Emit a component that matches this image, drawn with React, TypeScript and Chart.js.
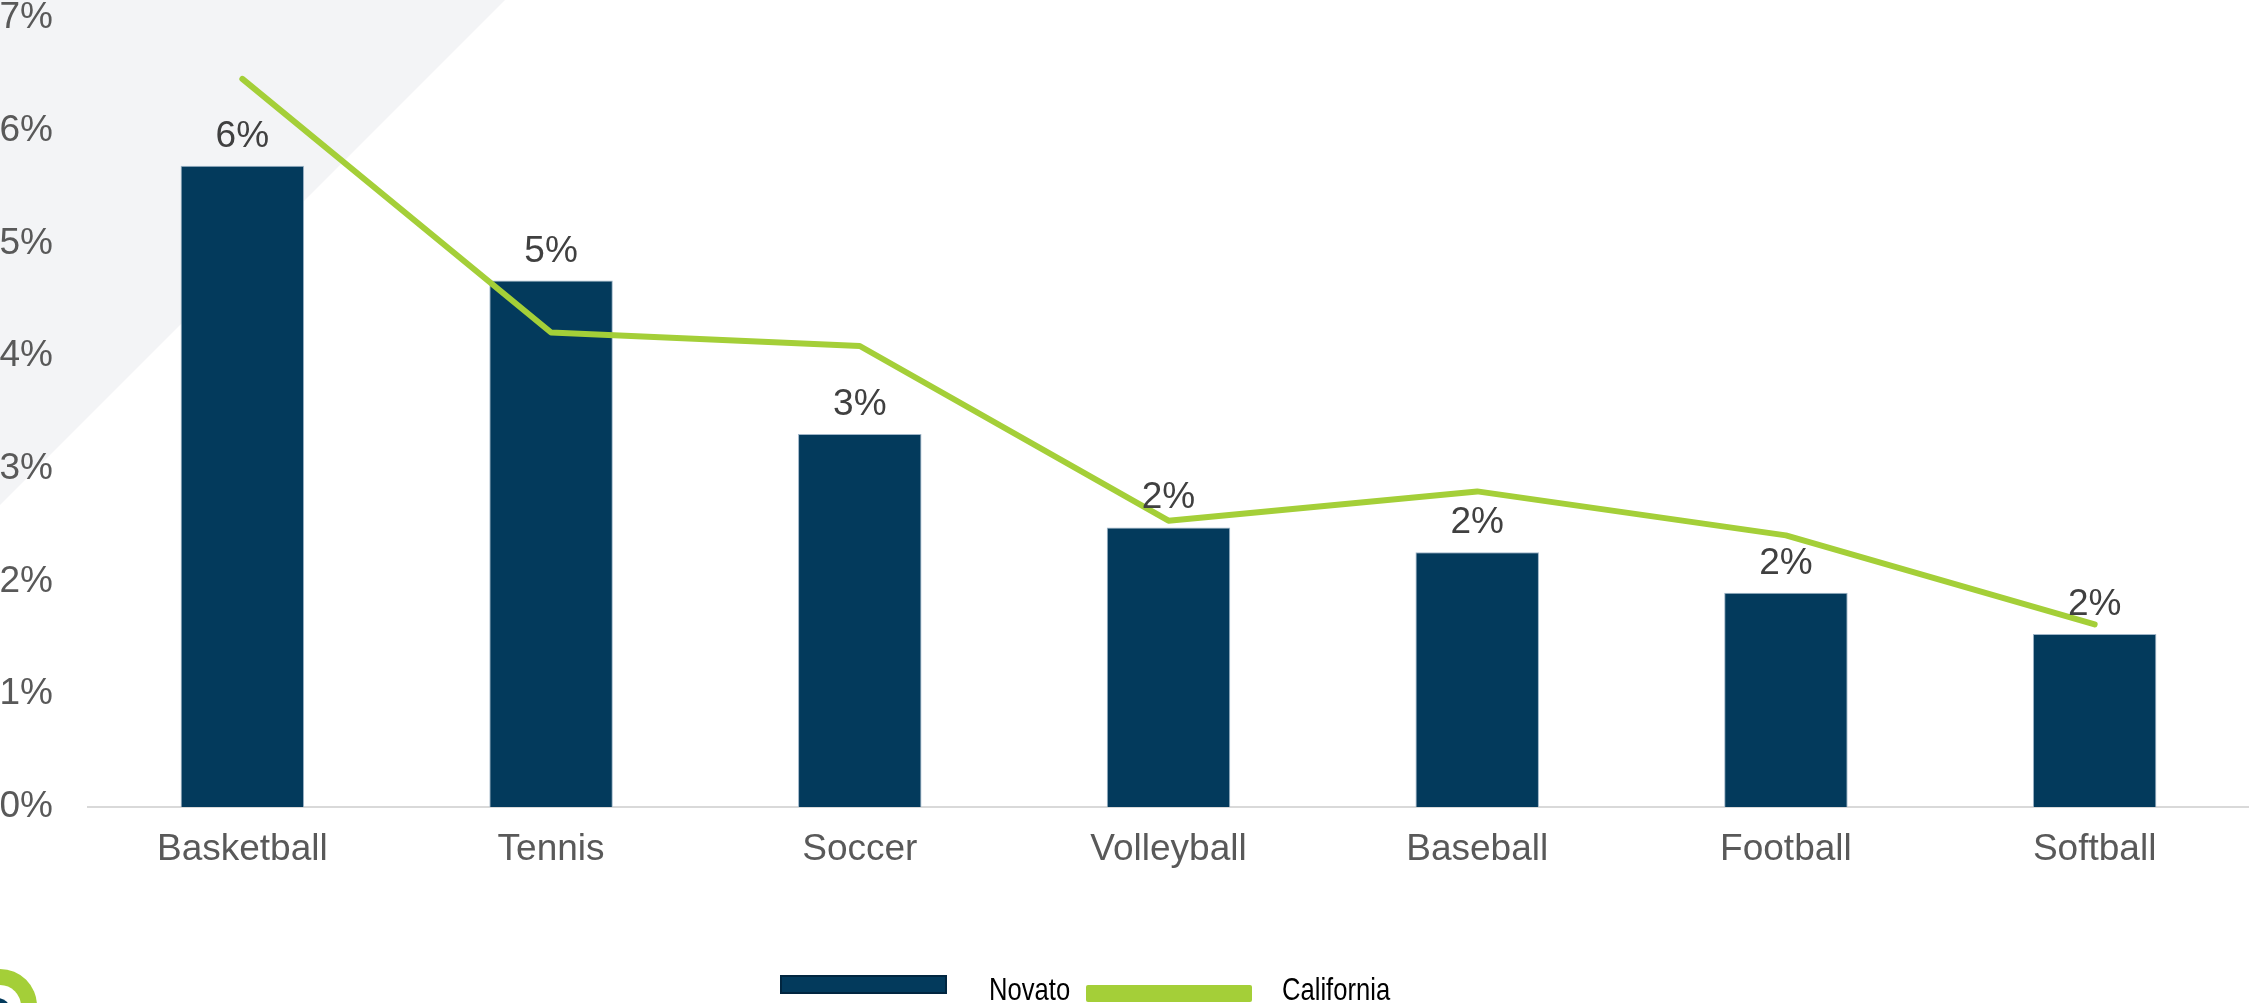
import React, { useEffect, useRef } from "react";
import { Chart, registerables } from "chart.js";

Chart.register(...registerables);

const categories = ["Basketball", "Tennis", "Soccer", "Volleyball", "Baseball", "Football", "Softball"];
const novatoValues = [5.69, 4.67, 3.31, 2.48, 2.26, 1.9, 1.535];
const californiaValues = [6.46, 4.21, 4.09, 2.54, 2.8, 2.41, 1.62];
const seriesLabels = ["Novato", "California"];
const yTickValues = [0, 1, 2, 3, 4, 5, 6, 7];

const NAVY = "#033A5C";
const GREEN = "#A4CF38";
const FONT = "'Liberation Sans', Arial, sans-serif";

const backgroundPlugin = {
  id: "bgDecor",
  beforeDraw(chart: any) {
    const { ctx, width, height } = chart;
    ctx.save();
    ctx.fillStyle = "#FFFFFF";
    ctx.fillRect(0, 0, width, height);
    ctx.fillStyle = "#F3F4F6";
    ctx.beginPath();
    ctx.moveTo(0, 0);
    ctx.lineTo(505, 0);
    ctx.lineTo(0, 505);
    ctx.closePath();
    ctx.fill();
    // partial logo ring bottom-left
    ctx.fillStyle = GREEN;
    ctx.beginPath();
    ctx.arc(0, 1006, 37, 0, Math.PI * 2);
    ctx.fill();
    ctx.fillStyle = "#FFFFFF";
    ctx.beginPath();
    ctx.arc(0, 1006, 21, 0, Math.PI * 2);
    ctx.fill();
    ctx.fillStyle = NAVY;
    ctx.beginPath();
    ctx.arc(-2, 1010, 12, 0, Math.PI * 2);
    ctx.fill();
    ctx.restore();
  },
};

const dataLabelPlugin = {
  id: "barValueLabels",
  afterDatasetsDraw(chart: any) {
    const { ctx } = chart;
    const meta = chart.getDatasetMeta(0);
    ctx.save();
    ctx.font = `37px ${FONT}`;
    ctx.fillStyle = "#404040";
    ctx.textAlign = "center";
    ctx.textBaseline = "alphabetic";
    meta.data.forEach((bar: any, i: number) => {
      const v = chart.data.datasets[0].data[i] as number;
      ctx.fillText(`${Math.round(v)}%`, bar.x, bar.y - 19);
    });
    ctx.restore();
  },
};

function drawNarrowText(ctx: CanvasRenderingContext2D, text: string, x: number, y: number) {
  ctx.save();
  ctx.translate(x, y);
  ctx.scale(0.8, 1);
  ctx.fillText(text, 0, 0);
  ctx.restore();
}

const legendPlugin = {
  id: "customLegend",
  afterDraw(chart: any) {
    const { ctx } = chart;
    const ds = chart.data.datasets;
    ctx.save();
    ctx.font = `32px ${FONT}`;
    ctx.textBaseline = "middle";
    ctx.textAlign = "left";
    // Novato item
    ctx.fillStyle = ds[0].backgroundColor;
    ctx.fillRect(780, 975, 167, 19);
    ctx.strokeStyle = "#012640";
    ctx.lineWidth = 2;
    ctx.strokeRect(781, 976, 165, 17);
    ctx.fillStyle = "#000000";
    drawNarrowText(ctx, ds[0].label, 989, 991);
    // California item
    ctx.fillStyle = ds[1].borderColor;
    ctx.beginPath();
    (ctx as any).roundRect ? (ctx as any).roundRect(1086, 985, 166, 17, 2) : ctx.rect(1086, 985, 166, 17);
    ctx.fill();
    ctx.fillStyle = "#000000";
    drawNarrowText(ctx, ds[1].label, 1282, 991);
    ctx.restore();
  },
};

export default function App() {
  const canvasRef = useRef<HTMLCanvasElement | null>(null);

  useEffect(() => {
    document.body.style.margin = "0";
    const canvas = canvasRef.current;
    if (!canvas) return;
    const chart = new Chart(canvas, {
      type: "bar",
      data: {
        labels: categories,
        datasets: [
          {
            type: "bar",
            label: seriesLabels[0],
            data: novatoValues,
            backgroundColor: NAVY,
            borderColor: "#9FB5C8",
            borderWidth: 1,
            barPercentage: 0.4,
            categoryPercentage: 1.0,
            order: 1,
          } as any,
          {
            type: "line",
            label: seriesLabels[1],
            data: californiaValues,
            borderColor: GREEN,
            backgroundColor: GREEN,
            borderWidth: 6,
            pointRadius: 0,
            tension: 0,
            borderCapStyle: "round",
            borderJoinStyle: "round",
            order: 0,
          } as any,
        ],
      },
      options: {
        responsive: false,
        devicePixelRatio: 1,
        animation: false,
        layout: { padding: 0 },
        plugins: {
          legend: { display: false },
          tooltip: { enabled: false },
        },
        scales: {
          x: {
            grid: { display: false, drawTicks: false },
            border: { display: true, color: "#D9D9D9", width: 2 },
            ticks: {
              color: "#595959",
              font: { family: FONT, size: 37 },
              padding: 21,
              maxRotation: 0,
              autoSkip: false,
            },
            afterFit(scale: any) {
              scale.height = 196;
            },
          },
          y: {
            min: 0,
            max: 7,
            grid: { display: false, drawTicks: false },
            border: { display: false },
            afterBuildTicks(scale: any) {
              scale.ticks = yTickValues.map((v) => ({ value: v }));
            },
            ticks: {
              color: "#595959",
              font: { family: FONT, size: 37 },
              padding: 35,
              callback: (v: any) => `${v}%`,
            },
            afterFit(scale: any) {
              scale.width = 88;
              scale.paddingTop = 18;
              scale.paddingBottom = 0;
            },
          },
        },
      },
      plugins: [backgroundPlugin, dataLabelPlugin, legendPlugin],
    });
    return () => chart.destroy();
  }, []);

  return (
    <canvas
      ref={canvasRef}
      width={2249}
      height={1003}
      style={{ display: "block", width: "2249px", height: "1003px" }}
    />
  );
}
